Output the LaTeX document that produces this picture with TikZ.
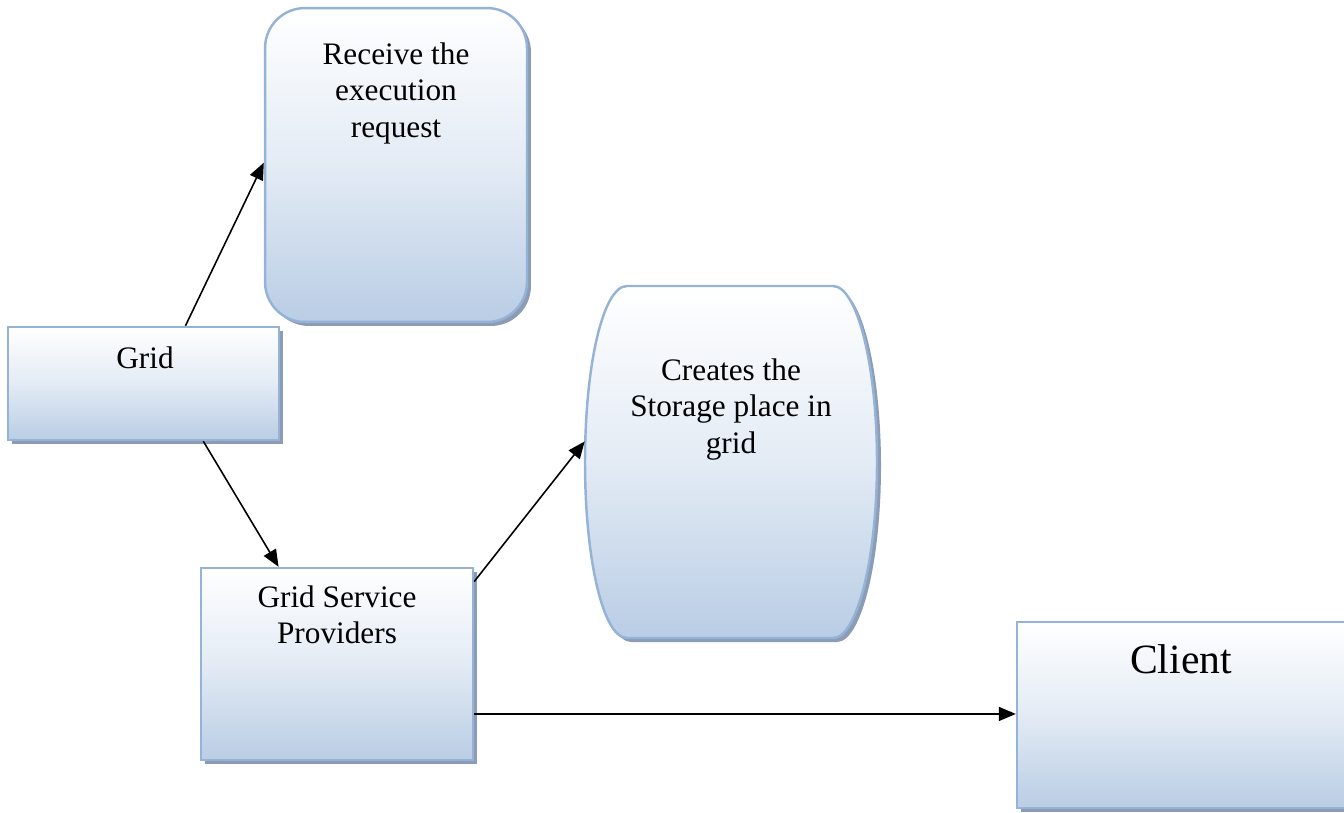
\documentclass[tikz,border=0pt]{standalone}
\usepackage{fontspec}
\setmainfont{Liberation Serif}
\usetikzlibrary{arrows.meta, shadows}
\definecolor{boxblue}{RGB}{185,205,229}
\definecolor{edgeblue}{RGB}{149,179,215}
\definecolor{shadowblue}{RGB}{140,156,180}

\begin{document}
\begin{tikzpicture}[x=0.02cm, y=-0.02cm,
    box/.style={draw=edgeblue, line width=1.4pt, top color=white, bottom color=boxblue,
        middle color=boxblue!40!white,
        drop shadow={shadow xshift=0.08cm, shadow yshift=-0.08cm, fill=shadowblue, opacity=1}},
    txt/.style={anchor=north, inner sep=0pt, align=center, font=\fontsize{17.8}{21}\selectfont},
    link/.style={line width=0.9pt, -{Triangle[length=0.34cm, width=0.28cm]}}]
    \useasboundingbox (0,0) rectangle (1344,812);

    % Grid
    \node[box, minimum width=5.42cm, minimum height=2.26cm] (grid) at (143.5,383.5) {};
    \node[txt] (grid-text) at (145,346) {Grid};

    % Receive the execution request
    \node[box, rounded corners=0.8cm, minimum width=5.24cm, minimum height=6.28cm] (receive) at (396,165) {};
    \node[txt] (receive-text) at (396,42) {Receive the\\execution\\request};

    % Storage place
    \node[minimum width=5.84cm, minimum height=7.04cm, inner sep=0pt] (storage) at (731,462) {};
    \draw[box] (627,286) -- (833,286) .. controls (857,286) and (877,365) .. (877,462)
        .. controls (877,559) and (857,638) .. (833,638) -- (627,638)
        .. controls (603,638) and (585,559) .. (585,462)
        .. controls (585,365) and (603,286) .. (627,286) -- cycle;
    \node[txt] (storage-text) at (731,358) {Creates the\\Storage place in\\grid};

    % Grid Service Providers
    \node[box, minimum width=5.44cm, minimum height=3.84cm] (gsp) at (337,664) {};
    \node[txt] (gsp-text) at (337,585) {Grid Service\\Providers};

    % Client
    \node[box, minimum width=6.64cm, minimum height=3.72cm] (client) at (1183,715) {};
    \node[txt, font=\fontsize{23.7}{28}\selectfont] (client-text) at (1181,644) {Client};

    % Arrows
    \draw[link] (grid.54) -- (receive.179);
    \draw[link] (grid.316) -- (gsp.121);
    \draw[link] (gsp.31) -- (storage.172);
    \draw[link] (gsp.340) -- (gsp.340 -| client.west);
\end{tikzpicture}
\end{document}
